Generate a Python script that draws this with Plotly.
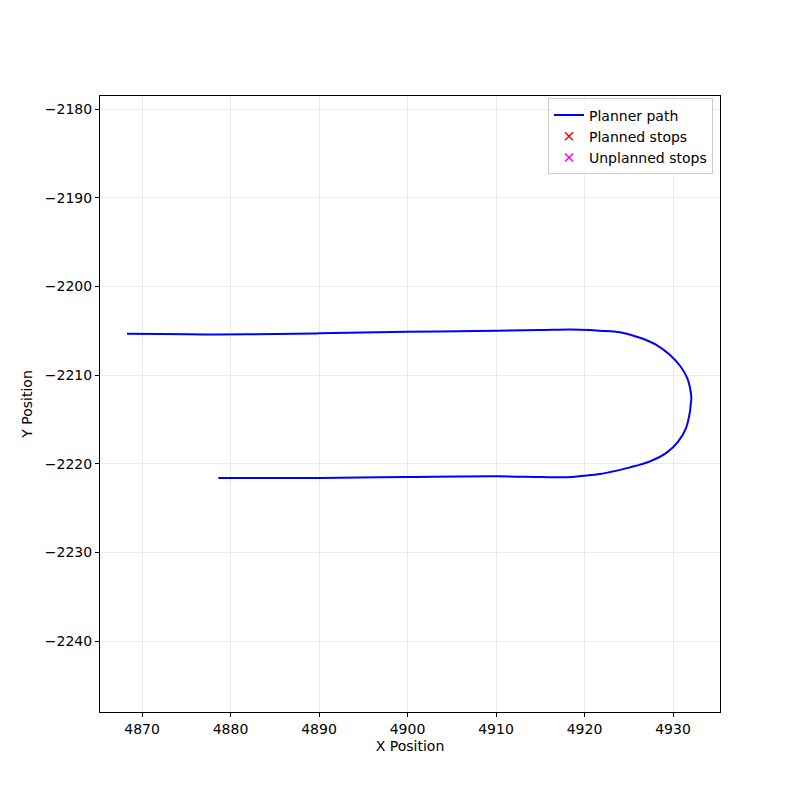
import plotly.graph_objects as go

# Planner path
path_x = [4868.3, 4872.0, 4877.0, 4882.0, 4890.0, 4900.0, 4910.0, 4915.0, 4918.36,
          4920.62, 4921.75, 4924.01, 4926.27, 4928.16, 4929.66, 4930.79, 4931.62,
          4932.0, 4932.07, 4932.0, 4931.92, 4931.47, 4930.6, 4929.29, 4927.40,
          4925.14, 4922.88, 4921.75, 4919.87, 4918.0, 4915.0, 4910.08, 4899.9,
          4890.1, 4884.0, 4878.62]
path_y = [-2205.34, -2205.38, -2205.42, -2205.40, -2205.30, -2205.13, -2205.0, -2204.92, -2204.86,
          -2204.92, -2205.00, -2205.18, -2205.79, -2206.62, -2207.74, -2208.95, -2210.37,
          -2211.88, -2212.7, -2213.3, -2214.09, -2215.98, -2217.48, -2218.75, -2219.73,
          -2220.41, -2220.94, -2221.16, -2221.36, -2221.52, -2221.5, -2221.42, -2221.5,
          -2221.6, -2221.62, -2221.6]

planned_x, planned_y = [None], [None]
unplanned_x, unplanned_y = [None], [None]

x_ticks = [4870, 4880, 4890, 4900, 4910, 4920, 4930]
y_ticks = [-2180, -2190, -2200, -2210, -2220, -2230, -2240]

fig = go.Figure()
fig.add_trace(go.Scatter(x=path_x, y=path_y, mode="lines", name="Planner path",
                         line=dict(color="blue", width=2, shape="spline", smoothing=1.0)))
fig.add_trace(go.Scatter(x=planned_x, y=planned_y, mode="markers", name="Planned stops",
                         marker=dict(symbol="x-thin", size=8, line=dict(color="red", width=1.5))))
fig.add_trace(go.Scatter(x=unplanned_x, y=unplanned_y, mode="markers", name="Unplanned stops",
                         marker=dict(symbol="x-thin", size=8, line=dict(color="magenta", width=1.5))))

axis_common = dict(
    showgrid=True, gridcolor="#ebebeb", gridwidth=1,
    showline=True, linecolor="black", linewidth=1, mirror=True,
    ticks="outside", ticklen=4, tickcolor="black",
    zeroline=False, tickfont=dict(size=14, color="black"),
)

fig.update_layout(
    width=800, height=800,
    paper_bgcolor="white", plot_bgcolor="white",
    font=dict(family="DejaVu Sans", size=14, color="black"),
    margin=dict(l=92, r=88, t=88, b=96),
    xaxis=dict(range=[4865.25, 4935.31], tickvals=x_ticks,
               title=dict(text="X Position", font=dict(size=14), standoff=5), **axis_common),
    yaxis=dict(range=[-2248.0, -2178.53], tickvals=y_ticks,
               title=dict(text="Y Position", font=dict(size=14), standoff=8), **axis_common),
    legend=dict(x=0.9887, y=0.996, xanchor="right", yanchor="top",
                bgcolor="rgba(255,255,255,0.8)", bordercolor="#cccccc", borderwidth=1,
                font=dict(size=14), tracegroupgap=0),
    showlegend=True,
)

fig.write_html("out.html")
